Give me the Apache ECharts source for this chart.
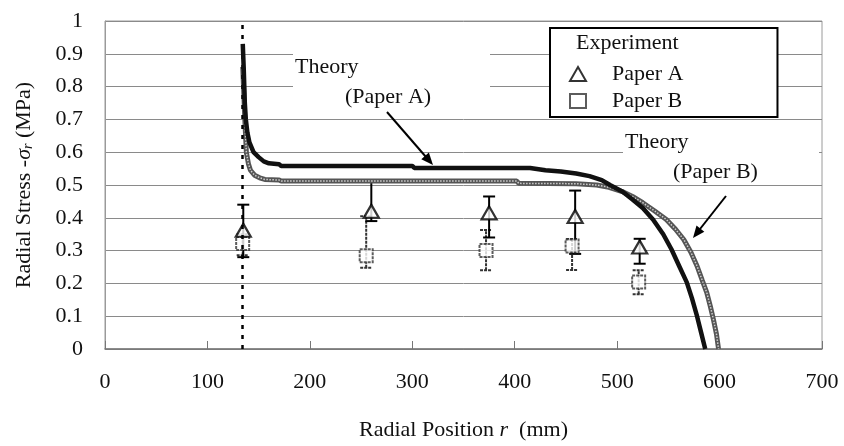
<!DOCTYPE html>
<html>
<head>
<meta charset="utf-8">
<script src="https://cdn.jsdelivr.net/npm/echarts@6/dist/echarts.min.js"></script>
<style>
  html, body { margin: 0; padding: 0; background: #fff; }
  #chart { width: 844px; height: 446px; }
</style>
</head>
<body>
<div id="chart"></div>
<script>
// theory curves, [r (mm), radial stress (MPa)]
var theoryA = [
    [134.5, 0.93], [135.5, 0.85], [136.5, 0.75], [137.5, 0.70], [139, 0.66], [141, 0.63],
    [145, 0.60], [150, 0.585], [155, 0.572], [160, 0.566], [170, 0.563], [172, 0.558],
    [300, 0.558], [302, 0.552], [415, 0.552], [430, 0.545], [445, 0.541], [460, 0.535],
    [473, 0.527], [485, 0.515], [493, 0.50], [505, 0.48], [515, 0.456], [525, 0.43],
    [535, 0.395], [545, 0.35], [553, 0.304], [561, 0.25], [568, 0.203], [573, 0.155],
    [578, 0.10], [582, 0.05], [586, 0.0]
];
var theoryB = [
    [134.5, 0.86], [135.5, 0.78], [136.5, 0.70], [138, 0.60], [140, 0.565], [142, 0.545],
    [146, 0.53], [151, 0.522], [156, 0.517], [170, 0.515], [172, 0.512], [402, 0.512],
    [404, 0.505], [460, 0.504], [480, 0.50], [492, 0.493], [505, 0.48], [515, 0.465],
    [525, 0.446], [537, 0.42], [548, 0.395], [557, 0.365], [565, 0.334], [572, 0.295],
    [578, 0.253], [583, 0.21], [587.5, 0.172], [591, 0.13], [594, 0.09], [597, 0.045],
    [599, 0.0]
];

// experiment, Paper A (triangles)
var paperA_r    = [135, 260, 375, 459, 522];
var paperA_val  = [0.362, 0.42, 0.415, 0.404, 0.311];
var paperA_low  = [0.28, 0.39, 0.34, 0.29, 0.26];
var paperA_high = [0.44, 0.515, 0.465, 0.483, 0.336];

// experiment, Paper B (squares)
var paperB_r    = [134.4, 255, 372, 456, 521];
var paperB_val  = [0.322, 0.284, 0.30, 0.314, 0.204];
var paperB_low  = [0.286, 0.248, 0.24, 0.241, 0.167];
var paperB_high = [0.35, 0.405, 0.363, 0.335, 0.24];

var innerRadius = 134.4;

var xTicks = [0, 100, 200, 300, 400, 500, 600, 700];
var yTicks = [0, 0.1, 0.2, 0.3, 0.4, 0.5, 0.6, 0.7, 0.8, 0.9, 1];

var font = 'Liberation Serif';

function pts(rs, vs) {
    return rs.map(function (r, i) { return [r, vs[i]]; });
}
function bars(rs, lo, hi) {
    return rs.map(function (r, i) { return [r, lo[i], hi[i]]; });
}

function errorBar(color, width, dash) {
    return function (params, api) {
        var lo = api.coord([api.value(0), api.value(1)]);
        var hi = api.coord([api.value(0), api.value(2)]);
        var w = 6;
        var style = { stroke: color, lineWidth: width, lineDash: dash };
        return {
            type: 'group',
            children: [
                { type: 'line', shape: { x1: lo[0], y1: lo[1], x2: hi[0], y2: hi[1] }, style: style },
                { type: 'line', shape: { x1: lo[0] - w, y1: lo[1], x2: lo[0] + w, y2: lo[1] }, style: style },
                { type: 'line', shape: { x1: hi[0] - w, y1: hi[1], x2: hi[0] + w, y2: hi[1] }, style: style }
            ]
        };
    };
}

var chart = echarts.init(document.getElementById('chart'));

var option = {
    backgroundColor: '#fff',
    animation: false,
    textStyle: { fontFamily: font },
    grid: {
        left: 105,
        right: 22,
        top: 21,
        bottom: 96,
        show: true,
        borderColor: '#9a9a9a',
        borderWidth: 1
    },
    legend: {
        data: ['Paper A', 'Paper B'],
        orient: 'vertical',
        left: 550,
        top: 28,
        padding: [35, 94, 5, 19],
        itemWidth: 16,
        itemHeight: 14,
        itemGap: 5,
        backgroundColor: '#fff',
        borderColor: '#000',
        borderWidth: 2,
        borderRadius: 0,
        textStyle: { fontFamily: font, fontSize: 22, color: '#111', padding: [0, 0, 0, 21] }
    },
    xAxis: {
        type: 'value',
        min: 0,
        max: 700,
        interval: 100,
        name: 'Radial Position {i|r}  (mm)',
        nameLocation: 'middle',
        nameGap: 70,
        nameTextStyle: {
            fontFamily: font, fontSize: 22, color: '#111',
            rich: { i: { fontFamily: font, fontSize: 22, fontStyle: 'italic', color: '#111' } }
        },
        axisLine: { lineStyle: { color: '#777', width: 1.5 } },
        axisTick: { inside: true, length: 8, lineStyle: { color: '#777' } },
        axisLabel: {
            margin: 22, fontSize: 22, color: '#111', fontFamily: font,
            formatter: function (v) { return xTicks.indexOf(v) >= 0 ? String(v) : ''; }
        },
        splitLine: { show: false }
    },
    yAxis: {
        type: 'value',
        min: 0,
        max: 1,
        interval: 0.1,
        name: 'Radial Stress -{i|σ}{s|r} (MPa)',
        nameLocation: 'middle',
        nameGap: 70,
        nameTextStyle: {
            fontFamily: font, fontSize: 22, color: '#111',
            rich: {
                i: { fontFamily: font, fontSize: 22, fontStyle: 'italic', color: '#111' },
                s: { fontFamily: font, fontSize: 14, fontStyle: 'italic', color: '#111', padding: [8, 0, 0, 0] }
            }
        },
        axisLine: { show: true, lineStyle: { color: '#9a9a9a' } },
        axisTick: { show: false },
        axisLabel: {
            margin: 22, fontSize: 22, color: '#111', fontFamily: font,
            formatter: function (v) {
                var t = Math.round(v * 10) / 10;
                for (var i = 0; i < yTicks.length; i++) {
                    if (Math.abs(yTicks[i] - t) < 1e-9) return String(yTicks[i]);
                }
                return '';
            }
        },
        splitLine: { lineStyle: { color: '#8a8a8a', width: 1 } }
    },
    series: [
        {
            name: 'Paper B bars',
            type: 'custom',
            renderItem: errorBar('#333', 2, [3, 1]),
            data: bars(paperB_r, paperB_low, paperB_high),
            encode: { x: 0, y: [1, 2] },
            z: 2,
            silent: true
        },
        {
            name: 'Paper A bars',
            type: 'custom',
            renderItem: errorBar('#000', 2, null),
            data: bars(paperA_r, paperA_low, paperA_high),
            encode: { x: 0, y: [1, 2] },
            z: 2,
            silent: true
        },
        {
            name: 'Paper B',
            type: 'scatter',
            symbol: 'rect',
            symbolSize: [13, 13],
            itemStyle: { color: '#fff', borderColor: '#333', borderWidth: 2, borderType: [3, 1] },
            data: pts(paperB_r, paperB_val),
            z: 3
        },
        {
            name: 'Paper A',
            type: 'scatter',
            symbol: 'triangle',
            symbolSize: [15, 13],
            itemStyle: { color: '#fff', borderColor: '#000', borderWidth: 2.2 },
            data: pts(paperA_r, paperA_val),
            z: 3
        },
        {
            name: 'Theory B',
            type: 'line',
            showSymbol: false,
            lineStyle: { color: '#555', width: 5 },
            data: theoryB,
            z: 4,
            markLine: {
                silent: true,
                symbol: 'none',
                label: { show: false },
                lineStyle: { color: '#000', width: 2.5, type: [4, 6] },
                data: [{ xAxis: innerRadius }]
            }
        },
        {
            name: 'Theory B texture',
            type: 'line',
            showSymbol: false,
            lineStyle: { color: '#cfcfcf', width: 1.5, type: [1.5, 1.5] },
            data: theoryB,
            z: 4
        },
        {
            name: 'Theory A',
            type: 'line',
            showSymbol: false,
            lineStyle: { color: '#111', width: 4.5 },
            data: theoryA,
            z: 5
        }
    ],
    graphic: [
        // white boxes behind the curve annotations
        { type: 'rect', shape: { x: 293, y: 40, width: 197, height: 64 }, style: { fill: '#fff' }, z: 1 },
        { type: 'rect', shape: { x: 623, y: 124, width: 196, height: 58 }, style: { fill: '#fff' }, z: 1 },
        { type: 'text', left: 295, top: 56, z: 10,
          style: { text: 'Theory', font: '22px "Liberation Serif"', fill: '#111' } },
        { type: 'text', left: 345, top: 86, z: 10,
          style: { text: '(Paper A)', font: '22px "Liberation Serif"', fill: '#111' } },
        { type: 'text', left: 625, top: 131, z: 10,
          style: { text: 'Theory', font: '22px "Liberation Serif"', fill: '#111' } },
        { type: 'text', left: 673, top: 161, z: 10,
          style: { text: '(Paper B)', font: '22px "Liberation Serif"', fill: '#111' } },
        { type: 'text', left: 576, top: 32, z: 200,
          style: { text: 'Experiment', font: '22px "Liberation Serif"', fill: '#111' } },
        // arrows
        { type: 'line', z: 10, shape: { x1: 387, y1: 112, x2: 426, y2: 157 }, style: { stroke: '#000', lineWidth: 2 } },
        { type: 'polygon', z: 10, shape: { points: [[433, 165], [421.3, 159.2], [428.9, 152.6]] }, style: { fill: '#000' } },
        { type: 'line', z: 10, shape: { x1: 726, y1: 196, x2: 700, y2: 229 }, style: { stroke: '#000', lineWidth: 2 } },
        { type: 'polygon', z: 10, shape: { points: [[693, 238], [696.5, 225.5], [704.3, 231.7]] }, style: { fill: '#000' } }
    ]
};

chart.setOption(option);
</script>
</body>
</html>
